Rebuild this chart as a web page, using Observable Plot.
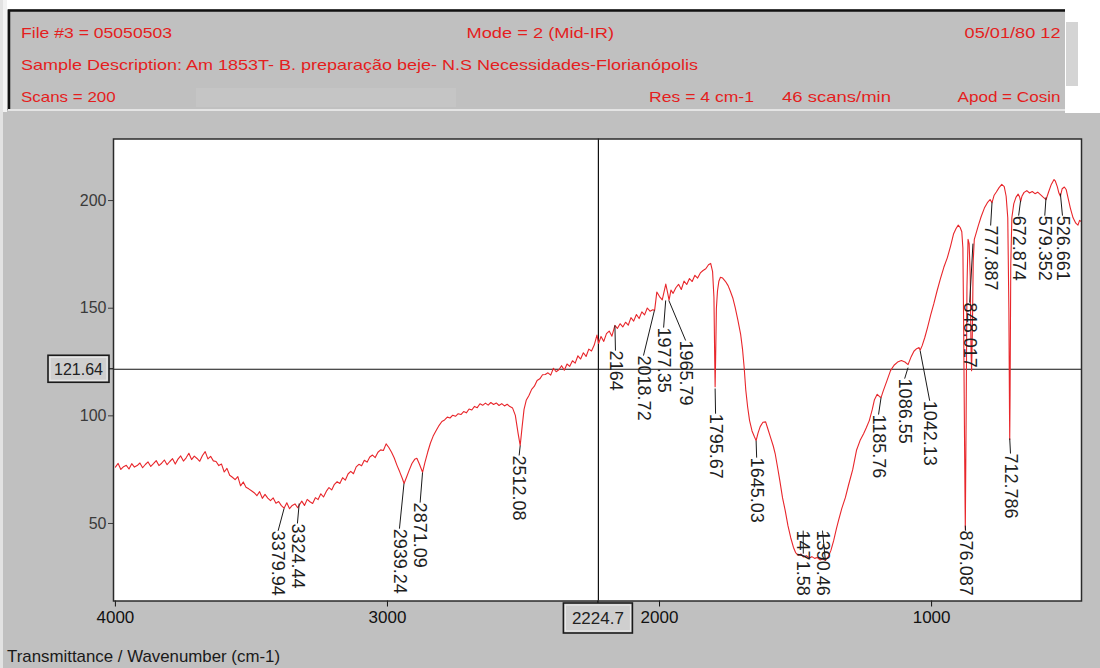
<!DOCTYPE html>
<html><head><meta charset="utf-8">
<script src="https://cdn.jsdelivr.net/npm/d3@7"></script>
<script src="https://cdn.jsdelivr.net/npm/@observablehq/plot@0.6"></script>
<style>
html,body{margin:0;padding:0;background:#c0c0c0;}
#page{position:relative;width:1100px;height:668px;overflow:hidden;background:#c0c0c0;font-family:"Liberation Sans",Arial,sans-serif;}
#header,#chart svg{display:block;}
#caption{position:absolute;left:0;top:640px;}
#edge{position:absolute;left:0;top:0;width:3px;height:668px;background:#e2e2e2;}
</style></head><body>
<div id="page">
<svg id="header" width="1100" height="118"></svg>
<div id="chart"></div>
<svg id="caption" width="400" height="28"></svg>
<div id="edge"></div>
</div>
<script>
// ---- header texts ----
const headerRow1 = ["File #3 = 05050503", "Mode = 2 (Mid-IR)", "05/01/80 12"];
const headerRow2 = ["Sample Description: Am 1853T- B. preparação beje- N.S Necessidades-Florianópolis"];
const headerRow3 = ["Scans = 200", "Res = 4 cm-1", "46 scans/min", "Apod = Cosin"];
const axisTitle = "Transmittance / Wavenumber (cm-1)";

// ---- spectrum (wavenumber cm-1, transmittance) ----
const wn = [
4000,3990,3980,3970,3960,3950,3940,3930,3920,3910,
3900,3890,3880,3870,3860,3850,3840,3830,3820,3810,
3800,3790,3780,3770,3760,3750,3740,3730,3720,3710,
3700,3690,3680,3670,3660,3650,3640,3630,3620,3610,
3600,3590,3580,3570,3560,3550,3540,3530,3520,3510,
3500,3490,3480,3470,3460,3450,3440,3430,3420,3410,
3400,3390,3380,3370,3360,3350,3340,3330,3324,3315,
3305,3295,3285,3275,3265,3255,3245,3235,3225,3215,
3205,3195,3185,3175,3165,3155,3145,3135,3125,3115,
3105,3095,3085,3075,3065,3055,3045,3035,3025,3015,
3005,2995,2985,2975,2965,2955,2945,2939,2930,2920,
2910,2900,2892,2882,2871,2862,2852,2842,2832,2820,
2810,2800,2790,2780,2770,2760,2750,2740,2730,2720,
2710,2700,2690,2680,2670,2660,2650,2640,2630,2620,
2610,2600,2590,2580,2570,2560,2550,2540,2530,2520,
2512.08,2505,2498,2490,2480,2470,2460,2450,2440,2430,
2420,2410,2400,2390,2380,2370,2360,2350,2340,2330,
2320,2310,2300,2290,2280,2270,2260,2250,2240,2230,
2224,2215,2205,2195,2185,2175,2164,2155,2145,2135,
2125,2115,2105,2095,2085,2075,2065,2055,2045,2035,
2025,2018,2010,2000,1990,1977,1970,1965,1958,1950,
1940,1930,1920,1910,1900,1890,1880,1870,1860,1850,
1840,1830,1820,1812,1805,1800,1797,1795.67,1794,1791,
1787,1782,1776,1768,1758,1748,1740,1730,1722,1712,
1702,1695,1689,1683,1676,1669,1660,1652,1645,1638,
1630,1620,1610,1602,1592,1582,1575,1566,1558,1548,
1538,1528,1518,1508,1500,1490,1480,1471.58,1460,1450,
1440,1430,1420,1410,1400,1390.46,1380,1370,1360,1350,
1342,1330,1317,1305,1290,1276,1263,1250,1240,1229,
1218,1210,1200,1192,1185.76,1178,1165,1151,1138,1125,
1111,1098,1086.55,1075,1065,1055,1046,1042.13,1035,1025,
1015,1003,992,980,968,955,942,930,919,910,
902,895,889,885,882,879,876.087,873,870,866,
862,858,855,853,850,847,843,836,828,818,
806,795,785,777.887,770,762,752,742,733,726,
720,716,713.5,712.786,711.5,709,705,698,690,682,
676,672.874,668,660,650,640,630,620,610,600,
590,579.352,570,560,550,545,538,532,526.661,520,
512,505,498,490,480,470,462,456,450
];
const tr = [
76.2,77.9,75.1,76.4,77.0,75.3,77.8,76.2,76.9,78.1,
75.9,77.4,78.6,76.5,77.8,79.2,76.9,78.0,79.5,77.3,
78.8,80.1,77.6,79.9,81.4,79.0,80.5,82.6,79.7,81.3,
80.2,78.9,81.6,83.4,80.0,81.2,79.1,78.8,76.9,77.6,
73.9,75.6,72.4,71.5,70.4,71.8,67.5,69.3,66.8,66.1,
65.2,64.3,62.9,64.8,61.7,63.5,61.8,60.6,61.9,59.4,
60.2,58.3,57.1,59.6,56.9,58.4,59.1,57.3,58.6,60.4,
58.4,61.2,60.1,59.3,62.0,61.1,63.8,62.3,64.9,66.7,
65.6,68.2,69.4,68.6,71.3,70.1,73.0,74.2,73.1,76.3,
77.5,76.8,79.4,78.5,80.9,81.8,80.6,83.1,84.2,83.9,
87.0,85.3,83.1,80.4,77.0,74.0,70.8,68.6,71.5,74.8,
77.9,79.8,80.3,77.4,73.8,78.5,83.2,87.4,90.6,93.4,
95.6,97.4,98.1,99.4,99.0,100.3,99.8,101.0,100.6,102.0,
101.4,103.2,102.7,104.4,103.8,105.6,104.9,105.9,105.0,106.2,
105.3,106.0,104.8,105.7,104.6,105.4,104.3,103.6,100.2,92.0,
86.2,95.0,103.0,107.2,109.5,112.3,113.8,116.4,117.2,119.1,
119.2,120.0,118.9,122.1,120.5,121.4,123.3,121.2,124.1,123.0,
125.6,124.5,127.9,126.4,129.3,127.6,131.0,130.1,132.9,137.5,
133.6,136.9,134.6,138.2,139.4,137.0,142.0,140.6,142.8,141.3,
143.5,142.1,145.6,144.0,147.1,145.2,148.3,146.9,150.1,148.6,
149.3,149.0,157.5,155.4,153.9,161.2,157.0,153.8,158.4,156.9,
159.5,161.1,158.7,162.6,161.0,163.8,162.4,165.3,164.0,166.4,
167.5,168.3,170.2,170.8,167.0,155.0,125.0,113.5,125.0,150.0,
158.0,162.5,164.4,164.0,162.5,160.5,158.0,154.5,150.4,144.5,
138.0,131.0,122.6,112.0,104.0,97.8,93.0,90.5,88.5,92.0,
95.0,97.0,97.2,94.0,90.0,86.0,82.5,76.0,70.0,62.0,
56.0,49.0,43.5,39.0,36.5,35.2,35.8,34.5,35.0,34.0,
34.6,33.8,34.2,33.1,33.6,32.8,34.5,37.5,42.0,47.5,
51.4,57.0,62.0,68.0,75.0,84.0,88.5,91.7,94.5,97.8,
103.0,107.5,110.0,109.0,108.5,111.5,116.0,121.0,123.5,125.0,
125.7,125.0,123.8,127.5,130.0,131.2,131.7,130.5,132.5,136.4,
141.0,147.0,152.0,158.0,163.5,169.0,173.5,179.0,184.6,187.0,
188.6,187.5,185.5,178.0,140.0,90.0,47.0,100.0,160.0,182.0,
180.0,165.0,130.0,121.0,140.0,172.0,182.0,185.0,188.5,192.5,
196.5,199.0,200.5,199.0,202.5,204.0,206.0,207.5,206.5,202.0,
192.0,150.0,100.0,89.0,110.0,170.0,192.0,198.5,201.5,203.0,
201.5,199.5,202.0,203.8,204.6,203.5,204.2,203.2,203.9,202.8,
201.6,200.4,204.0,207.5,209.8,209.0,206.5,203.5,202.0,205.5,
206.3,205.0,201.0,196.5,192.0,189.5,188.6,190.8,190.3
];

// ---- peak annotations ----
const peakWn = [3379.94,3324.44,2939.24,2871.09,2512.08,2164,2018.72,1977.35,1965.79,1795.67,1645.03,1471.58,1390.46,1185.76,1086.55,1042.13,876.087,848.017,777.887,712.786,672.874,579.352,526.661];
const peakT  = [57.0,59.3,68.6,73.7,86.2,142.0,149.0,153.6,153.6,112.7,88.5,36.0,32.8,108.5,122.4,130.3,49.0,180.0,199.2,89.5,200.0,201.5,203.3];
const labelWn = [3402,3331,2956,2880,2516,2162,2059,1985,1904,1794,1643,1472,1401,1195,1099,1007,875,860,783,710,680,584,519];
const labelT  = [46.6,50.0,47.6,59.7,81.6,130.3,128.0,141.0,135.0,101.0,80.6,46.7,46.7,100.6,117.3,107.0,46.7,152.6,188.4,82.5,193.0,193.0,193.0];

// ---- axes / cursor ----
const xTicks = [4000,3000,2000,1000];
const yTicks = [50,100,150,200];
const xDomain = [4007,449];
const yDomain = [14,228.6];
const cursorWn = 2224.7;
const cursorT = 121.64;

const spectrum = wn.map((w,i) => ({w, t: tr[i]}));
const peaks = peakWn.map((w,i) => ({w, t: peakT[i], lw: labelWn[i], lt: labelT[i], label: String(w)}));

// ---- header ----
const hdr = d3.select("#header");
hdr.append("rect").attr("width",1100).attr("height",118).attr("fill","#c0c0c0");
hdr.append("rect").attr("x",0).attr("y",0).attr("width",1100).attr("height",9).attr("fill","#ffffff");
hdr.append("rect").attr("x",0).attr("y",0).attr("width",7).attr("height",112).attr("fill","#f2f2f2");
hdr.append("rect").attr("x",1065).attr("y",0).attr("width",35).attr("height",113).attr("fill","#ffffff");
hdr.append("rect").attr("x",1066).attr("y",22).attr("width",12).attr("height",64).attr("fill","#d4d4d4");
hdr.append("rect").attr("x",196).attr("y",88).attr("width",260).attr("height",19).attr("fill","#c5c5c5");
hdr.append("line").attr("x1",8).attr("x2",1065).attr("y1",10.5).attr("y2",10.5).attr("stroke","#111").attr("stroke-width",2.5);
hdr.append("line").attr("x1",9).attr("x2",9).attr("y1",10).attr("y2",110).attr("stroke","#111").attr("stroke-width",2.5);
hdr.append("line").attr("x1",8).attr("x2",1065).attr("y1",110).attr("y2",110).attr("stroke","#e4e4e4").attr("stroke-width",2);
const hdrItems = [
  [headerRow1[0],21,37.5,151],[headerRow1[1],466.5,37.5,147.5],[headerRow1[2],964.6,37.5,96],
  [headerRow2[0],21,70,677],
  [headerRow3[0],21,101.5,94.7],[headerRow3[1],649,101.5,105],[headerRow3[2],782,101.5,109],[headerRow3[3],957.5,101.5,103]
];
hdr.selectAll("text.h").data(hdrItems).join("text")
  .attr("x",d=>d[1]).attr("y",d=>d[2]).attr("textLength",d=>d[3]).attr("lengthAdjust","spacingAndGlyphs")
  .attr("font-family","Liberation Sans, Arial, sans-serif").attr("font-size",14.5).attr("fill","#e41e1e")
  .text(d=>d[0]);

// ---- chart ----
const chart = Plot.plot({
  width: 1100, height: 530,
  marginLeft: 113, marginRight: 19, marginTop: 20.5, marginBottom: 47.5,
  style: {background: "transparent", fontFamily: "Liberation Sans, Arial, sans-serif", overflow: "visible"},
  x: {domain: xDomain},
  y: {domain: yDomain},
  marks: [
    Plot.frame({fill: "white"}),
    Plot.ruleX([cursorWn], {stroke: "#111", strokeWidth: 1.2}),
    Plot.ruleY([cursorT], {stroke: "#111", strokeWidth: 1.2}),
    Plot.line(spectrum, {x: "w", y: "t", stroke: "#e8262b", strokeWidth: 1.1}),
    Plot.link(peaks, {x1: "w", y1: "t", x2: "lw", y2: "lt", stroke: "#1a1a1a", strokeWidth: 1}),
    Plot.text(peaks, {x: "lw", y: "lt", text: "label", rotate: 90, textAnchor: "start", fontSize: 18, fill: "#1e1e1e"}),
    Plot.axisX({ticks: xTicks, tickSize: 6, tickPadding: 4, fontSize: 17, color: "#111", label: null, tickFormat: d => String(d)}),
    Plot.axisY({ticks: yTicks, tickSize: 5, tickPadding: 2, fontSize: 16, color: "#3a3a3a", label: null, tickFormat: d => String(d)}),
    Plot.frame({stroke: "#2a2a2a", strokeWidth: 1.5})
  ]
});
document.getElementById("chart").appendChild(chart);

// cursor read-out boxes placed through the plot's own scales
const xs = chart.scale("x"), ys = chart.scale("y");
const svg = d3.select(chart);
const frameLeft = 113, frameBottom = 530 - 47.5;
const yc = ys.apply(cursorT);
const g1 = svg.append("g");
g1.append("line").attr("x1",frameLeft-5).attr("x2",frameLeft).attr("y1",yc).attr("y2",yc).attr("stroke","#111").attr("stroke-width",1.2);
g1.append("rect").attr("x",frameLeft-65).attr("y",yc-13.5).attr("width",61).attr("height",27).attr("fill","#cfcfcf").attr("stroke","#1a1a1a").attr("stroke-width",1.6);
g1.append("rect").attr("x",frameLeft-63).attr("y",yc-11.5).attr("width",57).attr("height",23).attr("fill","none").attr("stroke","#ececec").attr("stroke-width",1);
g1.append("text").attr("x",frameLeft-34.5).attr("y",yc).attr("dy","0.36em").attr("text-anchor","middle").attr("font-size",16).attr("fill","#222").text(String(cursorT));
const xc = xs.apply(cursorWn);
const g2 = svg.append("g");
g2.append("line").attr("x1",xc).attr("x2",xc).attr("y1",frameBottom).attr("y2",frameBottom+3).attr("stroke","#111").attr("stroke-width",1.2);
g2.append("rect").attr("x",xc-34.5).attr("y",frameBottom+2.5).attr("width",69).attr("height",30).attr("fill","#cfcfcf").attr("stroke","#1a1a1a").attr("stroke-width",1.6);
g2.append("rect").attr("x",xc-32.5).attr("y",frameBottom+4.5).attr("width",65).attr("height",26).attr("fill","none").attr("stroke","#ececec").attr("stroke-width",1);
g2.append("text").attr("x",xc).attr("y",frameBottom+17.5).attr("dy","0.36em").attr("text-anchor","middle").attr("font-size",17).attr("fill","#222").text(String(cursorWn));

// ---- axis caption ----
d3.select("#caption").append("text").attr("x",7).attr("y",21.7).attr("textLength",273).attr("lengthAdjust","spacingAndGlyphs")
  .attr("font-family","Liberation Sans, Arial, sans-serif").attr("font-size",17).attr("fill","#1a1a1a").text(axisTitle);
</script>
</body></html>
